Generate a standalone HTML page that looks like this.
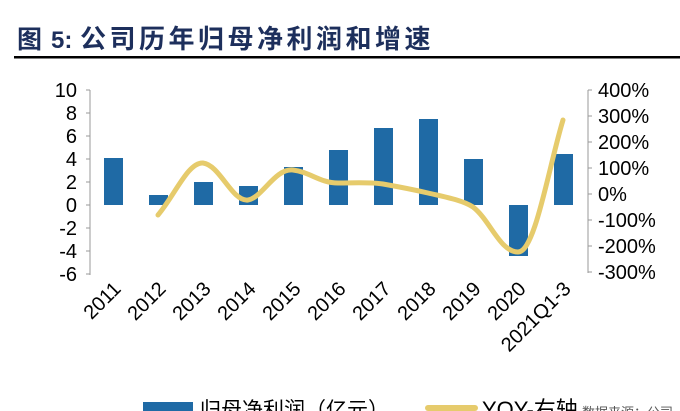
<!DOCTYPE html>
<html><head><meta charset="utf-8"><style>
html,body{margin:0;padding:0;background:#fff;}
body{width:680px;height:411px;overflow:hidden;position:relative;font-family:"Liberation Sans","Noto Sans CJK SC",sans-serif;}
</style></head><body>
<svg width="680" height="411" xmlns="http://www.w3.org/2000/svg" style="position:absolute;left:0;top:0">
<text x="17" y="48" font-size="25" font-weight="bold" fill="#1d2f5c" font-family="Liberation Sans,Noto Sans CJK SC,sans-serif">图</text>
<text x="51" y="48" font-size="24" font-weight="bold" fill="#1d2f5c">5:</text>
<text x="80" y="48" font-size="26" font-weight="bold" fill="#1d2f5c" letter-spacing="3.5" font-family="Liberation Sans,Noto Sans CJK SC,sans-serif">公司历年归母净利润和增速</text>
<rect x="14" y="56" width="666" height="2.5" fill="#000"/>
<g font-size="20" fill="#000" text-anchor="end" font-family="Liberation Sans,sans-serif">
<text x="77" y="97">10</text><text x="77" y="120">8</text><text x="77" y="143">6</text><text x="77" y="166">4</text><text x="77" y="189">2</text><text x="77" y="212">0</text><text x="77" y="235">-2</text><text x="77" y="258">-4</text><text x="77" y="281">-6</text>
</g>
<g font-size="20" fill="#000" font-family="Liberation Sans,sans-serif">
<text x="598" y="97">400%</text><text x="598" y="123">300%</text><text x="598" y="149">200%</text><text x="598" y="175">100%</text><text x="598" y="201">0%</text><text x="598" y="227">-100%</text><text x="598" y="253">-200%</text><text x="598" y="279">-300%</text>
</g>
<g stroke="#999" stroke-width="1" fill="none">
<path d="M90 90V275 M86 90H90 M86 113H90 M86 136H90 M86 159H90 M86 182H90 M86 205H90 M86 228H90 M86 251H90 M86 274H90"/>
<path d="M588 90V273 M588 90H592 M588 116H592 M588 142H592 M588 168H592 M588 194H592 M588 220H592 M588 246H592 M588 272H592"/>
</g>
<g fill="#1f6aa5">
<rect x="104" y="158" width="19" height="47"/>
<rect x="149" y="195" width="19" height="10"/>
<rect x="194" y="182" width="19" height="23"/>
<rect x="239" y="186" width="19" height="19"/>
<rect x="284" y="167" width="19" height="38"/>
<rect x="329" y="150" width="19" height="55"/>
<rect x="374" y="128" width="19" height="77"/>
<rect x="419" y="119" width="19" height="86"/>
<rect x="464" y="159" width="19" height="46"/>
<rect x="509" y="205" width="19" height="51"/>
<rect x="554" y="154" width="19" height="51"/>
</g>
<path d="M158 215 C175 195,188 162,203 163 C220 165,232 202,248 200 C262 198,275 168,293 170 C310 172,320 183,338 183 C355 183,370 182,383 184 C400 187,415 190,428 193 C445 197,462 200,473 207 C490 220,500 252,518 252 C535 252,548 170,563 120" fill="none" stroke="#e6cb6c" stroke-width="5" stroke-linecap="round"/>
<g font-size="20" fill="#000" font-family="Liberation Sans,sans-serif">
<text transform="translate(122,290) rotate(-45)" text-anchor="end">2011</text>
<text transform="translate(167,290) rotate(-45)" text-anchor="end">2012</text>
<text transform="translate(212,290) rotate(-45)" text-anchor="end">2013</text>
<text transform="translate(257,290) rotate(-45)" text-anchor="end">2014</text>
<text transform="translate(302,290) rotate(-45)" text-anchor="end">2015</text>
<text transform="translate(347,290) rotate(-45)" text-anchor="end">2016</text>
<text transform="translate(392,290) rotate(-45)" text-anchor="end">2017</text>
<text transform="translate(437,290) rotate(-45)" text-anchor="end">2018</text>
<text transform="translate(482,290) rotate(-45)" text-anchor="end">2019</text>
<text transform="translate(527,290) rotate(-45)" text-anchor="end">2020</text>
<text transform="translate(572,290) rotate(-45)" text-anchor="end">2021Q1-3</text>
</g>
<rect x="143" y="402" width="50" height="12" fill="#1f6aa5"/>
<text x="200" y="417" font-size="21" fill="#000">归母净利润（亿元）</text>
<rect x="425" y="405" width="53" height="6" rx="3" fill="#e6cb6c"/>
<text x="482" y="417" font-size="22" fill="#000">YOY-右轴</text>
<text x="582" y="417" font-size="13" fill="#555">数据来源：公司</text>
</svg>
</body></html>
